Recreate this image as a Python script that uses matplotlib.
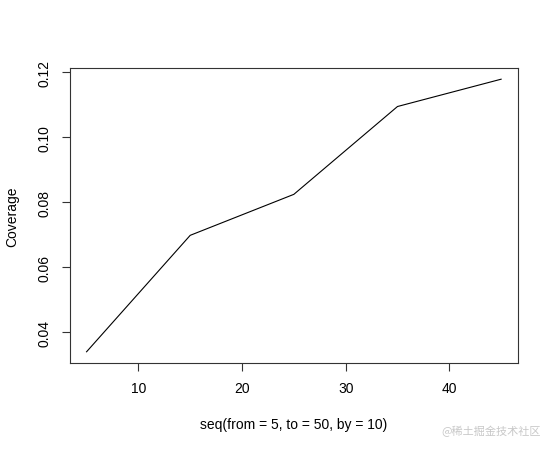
import numpy as np
import matplotlib.pyplot as plt

# data
x_vals = [5, 15, 25, 35, 45]
coverage = [0.0340, 0.0698, 0.0824, 0.1094, 0.1178]
x_ticks = [10, 20, 30, 40]
y_ticks = [0.04, 0.06, 0.08, 0.10, 0.12]
y_tick_labels = ['0.04', '0.06', '0.08', '0.10', '0.12']

plt.rcParams['font.family'] = ['Liberation Sans', 'DejaVu Sans']

fig = plt.figure(figsize=(5.55, 4.52), dpi=100)
ax = fig.add_axes([0.1261, 0.1954, 0.8067, 0.6513])

ax.plot(x_vals, coverage, color='black', lw=0.8)

# R-style 4% padding on both axes
xr = max(x_vals) - min(x_vals)
yr = max(coverage) - min(coverage)
ax.set_xlim(min(x_vals) - 0.04 * xr, max(x_vals) + 0.04 * xr)
ax.set_ylim(min(coverage) - 0.04 * yr, max(coverage) + 0.04 * yr)

ax.set_xticks(x_ticks)
ax.set_yticks(y_ticks)
ax.set_yticklabels(y_tick_labels, rotation=90, va='center')
ax.tick_params(axis='both', length=6, width=0.8, color='#333333',
               labelsize=10, pad=7)
for s in ax.spines.values():
    s.set_linewidth(0.8)
    s.set_color('#333333')

ax.set_xlabel('seq(from = 5, to = 50, by = 10)', fontsize=10)
ax.xaxis.set_label_coords(0.5, -0.208)
ax.xaxis.label.set_va('center')
ax.set_ylabel('Coverage', fontsize=10)
ax.yaxis.set_label_coords(-0.1296, 0.5)
ax.yaxis.label.set_va('center')

fig.text(0.975, 0.045, '@稀土掘金技术社区', ha='right', va='center',
         fontsize=8, color='#c8c8c8',
         family=['Noto Sans CJK SC', 'DejaVu Sans'])

plt.savefig('out.png', dpi=100)
